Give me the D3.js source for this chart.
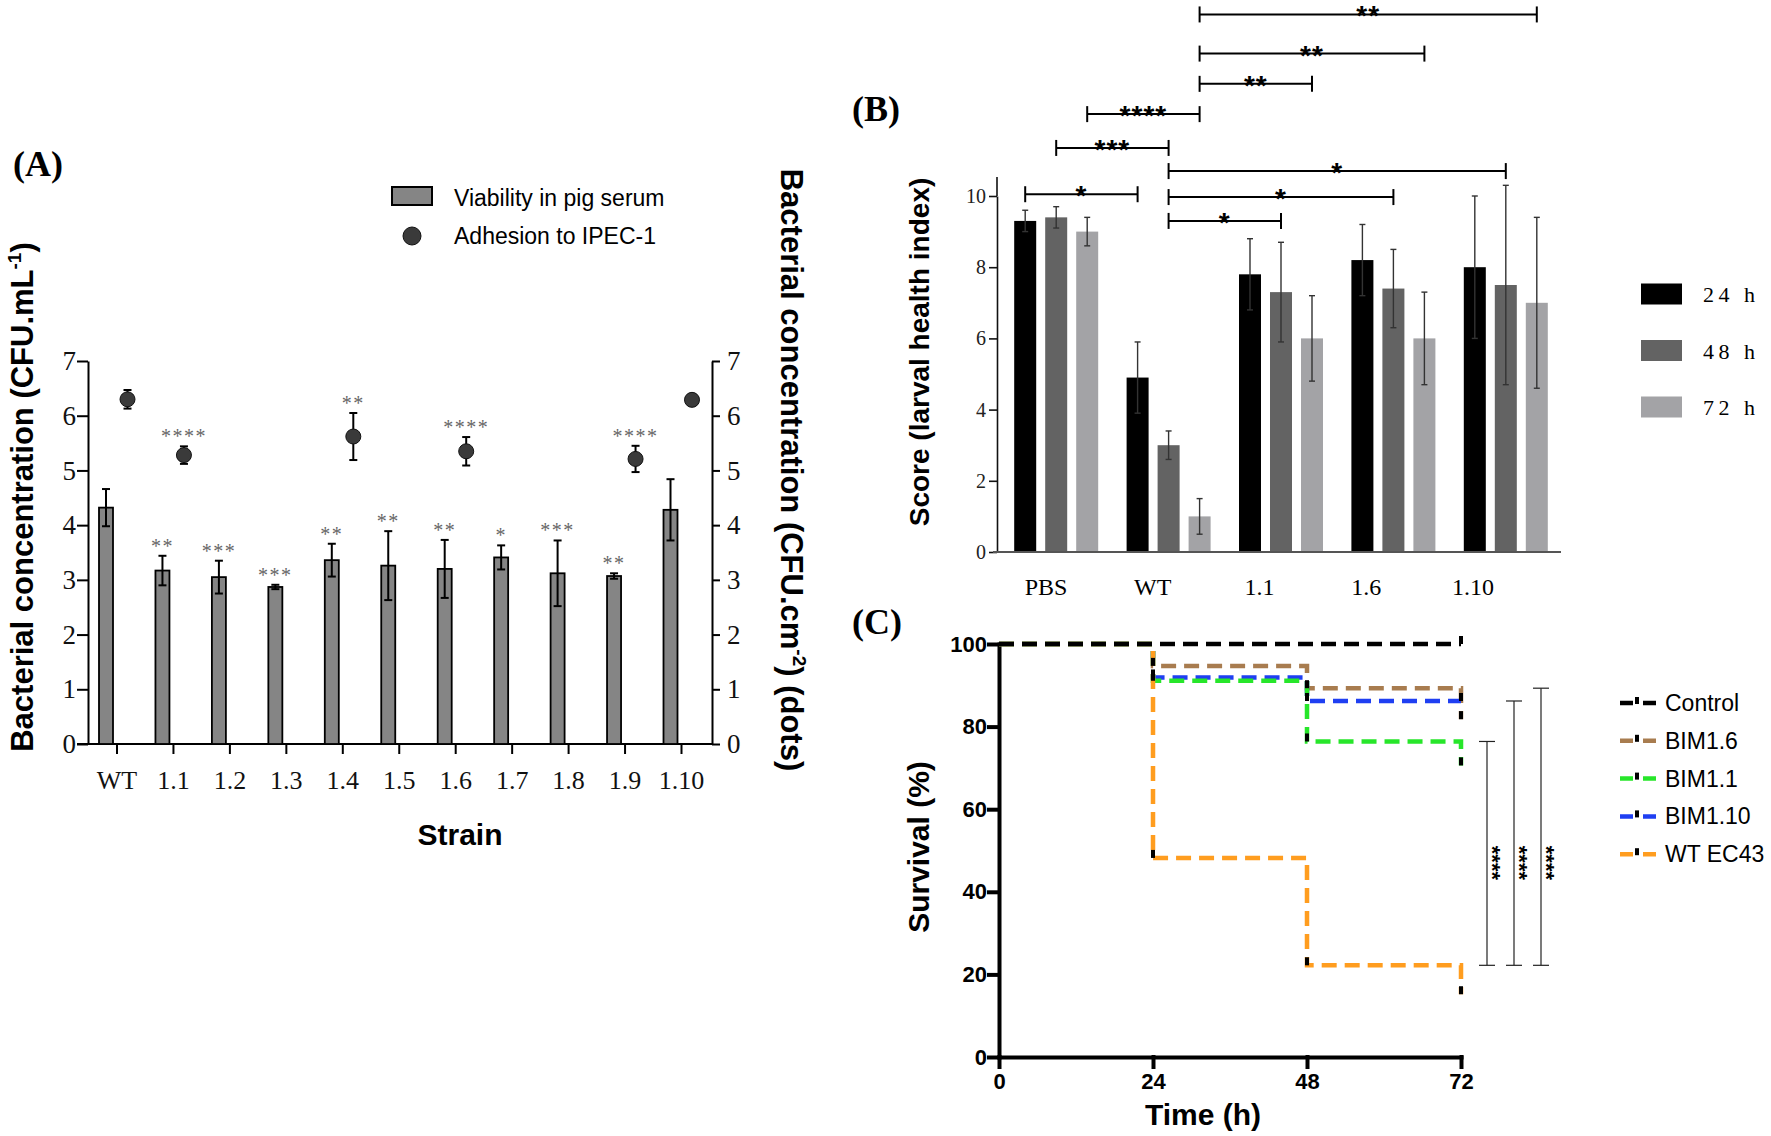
<!DOCTYPE html>
<html>

<head>
    <meta charset="utf-8">
    <style>
        body {
            margin: 0;
            background: #fff;
        }

        svg {
            display: block;
        }

        .serif {
            font-family: 'Liberation Serif', 'Times New Roman', serif;
        }

        .sans {
            font-family: 'Liberation Sans', Arial, sans-serif;
        }
    </style>
</head>

<body>
    <svg width="1771" height="1136"></svg>

    <script src="https://cdn.jsdelivr.net/npm/d3@7"></script>
    <script>
        // ---------- (A) viability in serum (bars) + adhesion (dots)
        let strains = ["WT", "1.1", "1.2", "1.3", "1.4", "1.5", "1.6", "1.7", "1.8", "1.9", "1.10"];
        let viability = [4.32, 3.17, 3.05, 2.87, 3.36, 3.26, 3.20, 3.41, 3.12, 3.07, 4.28];
        let viabilityErr = [0.34, 0.27, 0.30, 0.04, 0.30, 0.63, 0.53, 0.22, 0.60, 0.05, 0.56];
        let viabilityStars = ["", "**", "***", "***", "**", "**", "**", "*", "***", "**", ""];

        let adhesionStrains = ["WT", "1.1", "1.4", "1.6", "1.9", "1.10"];
        let adhesion = [6.30, 5.28, 5.62, 5.35, 5.21, 6.29];
        let adhesionErr = [0.17, 0.16, 0.43, 0.26, 0.24, 0];
        let adhesionStars = ["", "****", "**", "****", "****", ""];

        // ---------- (B) larval health index
        let groupsB = ["PBS", "WT", "1.1", "1.6", "1.10"];
        let timesB = ["24 h", "48 h", "72 h"];
        let score24 = [9.3, 4.9, 7.8, 8.2, 8.0];
        let score48 = [9.4, 3.0, 7.3, 7.4, 7.5];
        let score72 = [9.0, 1.0, 6.0, 6.0, 7.0];
        let sd24 = [0.3, 1.0, 1.0, 1.0, 2.0];
        let sd48 = [0.3, 0.4, 1.4, 1.1, 2.8];
        let sd72 = [0.4, 0.5, 1.2, 1.3, 2.4];
        let colorsB = ["#000000", "#636363", "#a3a3a6"];

        // comparisons drawn above the bars (level in score units)
        let brackets = [
            { g1: "WT", t1: "72 h", g2: "1.10", t2: "72 h", label: "**", level: 15.1 },
            { g1: "WT", t1: "72 h", g2: "1.6", t2: "72 h", label: "**", level: 14.0 },
            { g1: "WT", t1: "72 h", g2: "1.1", t2: "72 h", label: "**", level: 13.15 },
            { g1: "PBS", t1: "72 h", g2: "WT", t2: "72 h", label: "****", level: 12.3 },
            { g1: "PBS", t1: "48 h", g2: "WT", t2: "48 h", label: "***", level: 11.35 },
            { g1: "WT", t1: "48 h", g2: "1.10", t2: "48 h", label: "*", level: 10.7 },
            { g1: "PBS", t1: "24 h", g2: "WT", t2: "24 h", label: "*", level: 10.05 },
            { g1: "WT", t1: "48 h", g2: "1.6", t2: "48 h", label: "*", level: 9.97 },
            { g1: "WT", t1: "48 h", g2: "1.1", t2: "48 h", label: "*", level: 9.3 }
        ];

        // ---------- (C) survival
        let survTimes = [0, 24, 48, 72];
        let survNames = ["Control", "BIM1.6", "BIM1.1", "BIM1.10", "WT EC43"];
        let survControl = [100, 100, 100, 100];
        let survBim16 = [100, 94.7, 89.3, 81.8];
        let survBim11 = [100, 91.1, 76.4, 70.6];
        let survBim110 = [100, 91.9, 86.2, 86.2];
        let survWt = [100, 48.2, 22.2, 15.2];
        let survColors = ["#000000", "#a87c4f", "#27e62a", "#1f3ff2", "#ff9d1f"];
        let logRankVs = ["BIM1.1", "BIM1.10", "BIM1.6"];
        let logRankStars = ["****", "****", "****"];

        let svg = d3.select("svg");

        // =====================================================  PANEL A
        let xA = d3.scalePoint().domain(strains).range([116.5, 681]);
        let yA = d3.scaleLinear().domain([0, 7]).range([744, 361]);
        let gA = svg.append("g");

        function styleA(g) {
            g.selectAll("path, line").attr("stroke", "#000").attr("stroke-width", 2);
            g.selectAll("text").attr("class", "serif").attr("font-size", 27).attr("fill", "#111");
        }

        gA.append("g")
            .attr("transform", "translate(88,0)")
            .call(d3.axisLeft(yA).ticks(7).tickSize(11).tickPadding(1).tickSizeOuter(0))
            .call(styleA);

        gA.append("g")
            .attr("transform", "translate(712,0)")
            .call(d3.axisRight(yA).ticks(7).tickSize(8).tickPadding(7).tickSizeOuter(0))
            .call(styleA);

        gA.append("g")
            .attr("transform", "translate(0," + yA(0) + ")")
            .call(d3.axisBottom(xA).tickSize(10).tickPadding(17))
            .call(g => g.select(".domain").remove())
            .call(styleA)
            .call(g => g.selectAll("text").attr("font-size", 26));

        gA.append("line")
            .attr("x1", 77).attr("x2", 712)
            .attr("y1", yA(0)).attr("y2", yA(0))
            .attr("stroke", "#000").attr("stroke-width", 2);

        // bars
        gA.selectAll(".barA")
            .data(strains)
            .join("rect")
            .attr("class", "barA")
            .attr("x", d => xA(d) - 17.5)
            .attr("width", 14)
            .attr("y", (d, i) => yA(viability[i]))
            .attr("height", (d, i) => yA(0) - yA(viability[i]))
            .attr("fill", "#858585")
            .attr("stroke", "#000")
            .attr("stroke-width", 1.8);

        function errBar(g, x, yTop, yBot, cap, width, color) {
            g.append("line").attr("x1", x).attr("x2", x).attr("y1", yTop).attr("y2", yBot)
                .attr("stroke", color).attr("stroke-width", width);
            [yTop, yBot].forEach(y => {
                g.append("line").attr("x1", x - cap).attr("x2", x + cap).attr("y1", y).attr("y2", y)
                    .attr("stroke", color).attr("stroke-width", width);
            });
        }

        strains.forEach((s, i) => {
            let x = xA(s) - 10.5;
            errBar(gA, x, yA(viability[i] + viabilityErr[i]), yA(viability[i] - viabilityErr[i]), 4, 2, "#000");
            gA.append("text")
                .attr("class", "serif")
                .attr("x", x).attr("y", yA(viability[i] + viabilityErr[i]) - 3)
                .attr("text-anchor", "middle")
                .attr("font-size", 20)
                .attr("letter-spacing", 1.5)
                .attr("fill", "#666")
                .text(viabilityStars[i]);
        });

        adhesionStrains.forEach((s, i) => {
            let x = xA(s) + 11;
            if (adhesionErr[i] > 0) {
                errBar(gA, x, yA(adhesion[i] + adhesionErr[i]), yA(adhesion[i] - adhesionErr[i]), 4, 2, "#000");
            }
            gA.append("text")
                .attr("class", "serif")
                .attr("x", x).attr("y", yA(adhesion[i] + adhesionErr[i]) - 3)
                .attr("text-anchor", "middle")
                .attr("font-size", 20)
                .attr("letter-spacing", 1.5)
                .attr("fill", "#666")
                .text(adhesionStars[i]);
        });

        gA.selectAll(".dotA")
            .data(adhesionStrains)
            .join("circle")
            .attr("class", "dotA")
            .attr("cx", d => xA(d) + 11)
            .attr("cy", (d, i) => yA(adhesion[i]))
            .attr("r", 7.5)
            .attr("fill", "#3a3a3a")
            .attr("stroke", "#111")
            .attr("stroke-width", 1);

        // titles and legend
        gA.append("text").attr("class", "serif").attr("x", 13).attr("y", 176)
            .attr("font-size", 36).attr("font-weight", "bold").text("(A)");

        let yLabA = gA.append("text").attr("class", "sans")
            .attr("transform", "translate(33,497) rotate(-90)")
            .attr("text-anchor", "middle").attr("font-size", 31).attr("font-weight", "bold");
        yLabA.append("tspan").text("Bacterial concentration (CFU.mL");
        yLabA.append("tspan").attr("font-size", 19).attr("dy", -12).text("-1");
        yLabA.append("tspan").attr("dy", 12).text(")");

        let yLabA2 = gA.append("text").attr("class", "sans")
            .attr("transform", "translate(781,470) rotate(90)")
            .attr("text-anchor", "middle").attr("font-size", 31).attr("font-weight", "bold");
        yLabA2.append("tspan").text("Bacterial concentration (CFU.cm");
        yLabA2.append("tspan").attr("font-size", 19).attr("dy", -12).text("-2");
        yLabA2.append("tspan").attr("dy", 12).text(") (dots)");

        gA.append("text").attr("class", "sans").attr("x", 460).attr("y", 845)
            .attr("text-anchor", "middle").attr("font-size", 30).attr("font-weight", "bold").text("Strain");

        gA.append("rect").attr("x", 392).attr("y", 187).attr("width", 40).attr("height", 18)
            .attr("fill", "#858585").attr("stroke", "#000").attr("stroke-width", 2);
        gA.append("text").attr("class", "sans").attr("x", 454).attr("y", 206)
            .attr("font-size", 23).text("Viability in pig serum");
        gA.append("circle").attr("cx", 412).attr("cy", 236).attr("r", 9)
            .attr("fill", "#3a3a3a").attr("stroke", "#111");
        gA.append("text").attr("class", "sans").attr("x", 454).attr("y", 244)
            .attr("font-size", 23).text("Adhesion to IPEC-1");

        // =====================================================  PANEL B
        let xB = d3.scaleBand().domain(groupsB).range([1000, 1562]);
        let xSub = d3.scalePoint().domain(timesB).range([-31, 31]);
        let yB = d3.scaleLinear().domain([0, 10]).range([552, 196]);
        let gB = svg.append("g");

        let scoreMeans = [score24, score48, score72];
        let scoreSds = [sd24, sd48, sd72];
        let rowsB = groupsB.flatMap((g, gi) => timesB.map((t, ti) => ({
            group: g, time: t, ti: ti, mean: scoreMeans[ti][gi], sd: scoreSds[ti][gi]
        })));
        let cx = d => xB(d.group) + xB.bandwidth() / 2 + xSub(d.time);

        gB.selectAll(".barB")
            .data(rowsB)
            .join("rect")
            .attr("class", "barB")
            .attr("x", d => cx(d) - 11)
            .attr("width", 22)
            .attr("y", d => yB(d.mean))
            .attr("height", d => yB(0) - yB(d.mean))
            .attr("fill", d => colorsB[d.ti]);

        rowsB.forEach(d => {
            errBar(gB, cx(d), yB(d.mean + d.sd), yB(d.mean - d.sd), 3, 1.4, "#333");
        });

        gB.append("g")
            .attr("transform", "translate(997,0)")
            .call(d3.axisLeft(yB).tickValues([0, 2, 4, 6, 8, 10]).tickSize(8).tickPadding(3).tickSizeOuter(0))
            .call(g => g.selectAll("path, line").attr("stroke", "#111").attr("stroke-width", 1.6))
            .call(g => g.selectAll("text").attr("class", "serif").attr("font-size", 20).attr("fill", "#222"));
        gB.append("line").attr("x1", 997).attr("x2", 997).attr("y1", yB(10)).attr("y2", 177)
            .attr("stroke", "#111").attr("stroke-width", 1.6);
        gB.append("line").attr("x1", 993).attr("x2", 1561).attr("y1", yB(0)).attr("y2", yB(0))
            .attr("stroke", "#555").attr("stroke-width", 2);

        let xLabB = d3.scalePoint().domain(groupsB).range([1046, 1473]);
        gB.selectAll(".labB")
            .data(groupsB)
            .join("text")
            .attr("class", "serif")
            .attr("x", d => xLabB(d))
            .attr("y", 595)
            .attr("text-anchor", "middle")
            .attr("font-size", 24)
            .text(d => d);

        brackets.forEach(b => {
            let x1 = xB(b.g1) + xB.bandwidth() / 2 + xSub(b.t1);
            let x2 = xB(b.g2) + xB.bandwidth() / 2 + xSub(b.t2);
            let y = yB(b.level);
            gB.append("line").attr("x1", x1).attr("x2", x2).attr("y1", y).attr("y2", y)
                .attr("stroke", "#000").attr("stroke-width", 2);
            [x1, x2].forEach(x => {
                gB.append("line").attr("x1", x).attr("x2", x).attr("y1", y - 8).attr("y2", y + 8)
                    .attr("stroke", "#000").attr("stroke-width", 2);
            });
            gB.append("text").attr("class", "sans")
                .attr("x", (x1 + x2) / 2).attr("y", y + 11)
                .attr("text-anchor", "middle").attr("font-size", 28).attr("font-weight", "bold")
                .attr("letter-spacing", 1)
                .text(b.label);
        });

        gB.append("text").attr("class", "serif").attr("x", 852).attr("y", 121)
            .attr("font-size", 36).attr("font-weight", "bold").text("(B)");

        gB.append("text").attr("class", "sans")
            .attr("transform", "translate(929,352) rotate(-90)")
            .attr("text-anchor", "middle").attr("font-size", 28).attr("font-weight", "bold")
            .text("Score (larval health index)");

        timesB.forEach((t, i) => {
            let cy = 294 + i * 56.5;
            gB.append("rect").attr("x", 1641).attr("y", cy - 10.5).attr("width", 41).attr("height", 21)
                .attr("fill", colorsB[i]);
            gB.append("text").attr("class", "serif").attr("x", 1703).attr("y", cy + 8)
                .attr("font-size", 22).attr("letter-spacing", 4.5).text(t);
        });

        // =====================================================  PANEL C
        let xC = d3.scaleLinear().domain([0, 72]).range([999, 1461]);
        let yC = d3.scaleLinear().domain([0, 100]).range([1057, 644]);
        let gC = svg.append("g");
        let survSeries = [survControl, survBim16, survBim11, survBim110, survWt];

        function styleC(g) {
            g.selectAll("path, line").attr("stroke", "#000").attr("stroke-width", 4).attr("stroke-linecap", "square");
            g.selectAll("text").attr("class", "sans").attr("font-size", 22).attr("font-weight", "bold").attr("fill", "#000");
        }

        gC.append("g")
            .attr("transform", "translate(" + xC(0) + ",0)")
            .call(d3.axisLeft(yC).tickValues([0, 20, 40, 60, 80, 100]).tickSize(10).tickPadding(2).tickSizeOuter(0))
            .call(styleC);
        gC.append("g")
            .attr("transform", "translate(0," + yC(0) + ")")
            .call(d3.axisBottom(xC).tickValues(survTimes).tickSize(10).tickPadding(6).tickSizeOuter(0))
            .call(styleC);

        let lineC = d3.line()
            .x((d, i) => xC(survTimes[i]))
            .y(d => yC(d))
            .curve(d3.curveStepAfter);

        // control last so it sits on top along the 100 % line
        [1, 3, 2, 4, 0].forEach(k => {
            gC.append("path")
                .attr("d", lineC(survSeries[k]))
                .attr("fill", "none")
                .attr("stroke", survColors[k])
                .attr("stroke-width", 4.5)
                .attr("stroke-dasharray", "15,8");
        });

        // censor marks at each step
        survSeries.forEach(s => {
            s.forEach((v, i) => {
                if (i === 0) return;
                if (v === s[i - 1] && i < s.length - 1) return;
                gC.append("rect")
                    .attr("x", xC(survTimes[i]) - 2).attr("y", yC(v) - 8)
                    .attr("width", 4).attr("height", 8)
                    .attr("fill", "#000");
            });
        });

        // log-rank comparisons against WT EC43
        let wtIdx = survNames.indexOf("WT EC43");
        logRankVs.forEach((name, i) => {
            let s = survSeries[survNames.indexOf(name)];
            let x = xC(72) + 26 + i * 27;
            let yTop = yC(s[2]);
            let yBot = yC(survSeries[wtIdx][2]);
            gC.append("line").attr("x1", x).attr("x2", x).attr("y1", yTop).attr("y2", yBot)
                .attr("stroke", "#222").attr("stroke-width", 1.2);
            [yTop, yBot].forEach(y => {
                gC.append("line").attr("x1", x - 8).attr("x2", x + 8).attr("y1", y).attr("y2", y)
                    .attr("stroke", "#222").attr("stroke-width", 1.2);
            });
            gC.append("text").attr("class", "sans")
                .attr("transform", "translate(" + (x - 2) + "," + yC(47) + ") rotate(90)")
                .attr("text-anchor", "middle").attr("font-size", 22).attr("font-weight", "bold")
                .text(logRankStars[i]);
        });

        // legend
        survNames.forEach((name, i) => {
            let y = 703 + i * 37.8;
            gC.append("line").attr("x1", 1620).attr("x2", 1657).attr("y1", y).attr("y2", y)
                .attr("stroke", survColors[i]).attr("stroke-width", 4.5).attr("stroke-dasharray", "13,10");
            gC.append("rect").attr("x", 1635).attr("y", y - 6).attr("width", 4).attr("height", 7).attr("fill", "#000");
            gC.append("text").attr("class", "sans").attr("x", 1665).attr("y", y + 8)
                .attr("font-size", 23).text(name);
        });

        gC.append("text").attr("class", "serif").attr("x", 852).attr("y", 634)
            .attr("font-size", 36).attr("font-weight", "bold").text("(C)");
        gC.append("text").attr("class", "sans")
            .attr("transform", "translate(929,847) rotate(-90)")
            .attr("text-anchor", "middle").attr("font-size", 30).attr("font-weight", "bold")
            .text("Survival (%)");
        gC.append("text").attr("class", "sans").attr("x", 1203).attr("y", 1125)
            .attr("text-anchor", "middle").attr("font-size", 30).attr("font-weight", "bold")
            .text("Time (h)");
    </script>
</body>

</html>
